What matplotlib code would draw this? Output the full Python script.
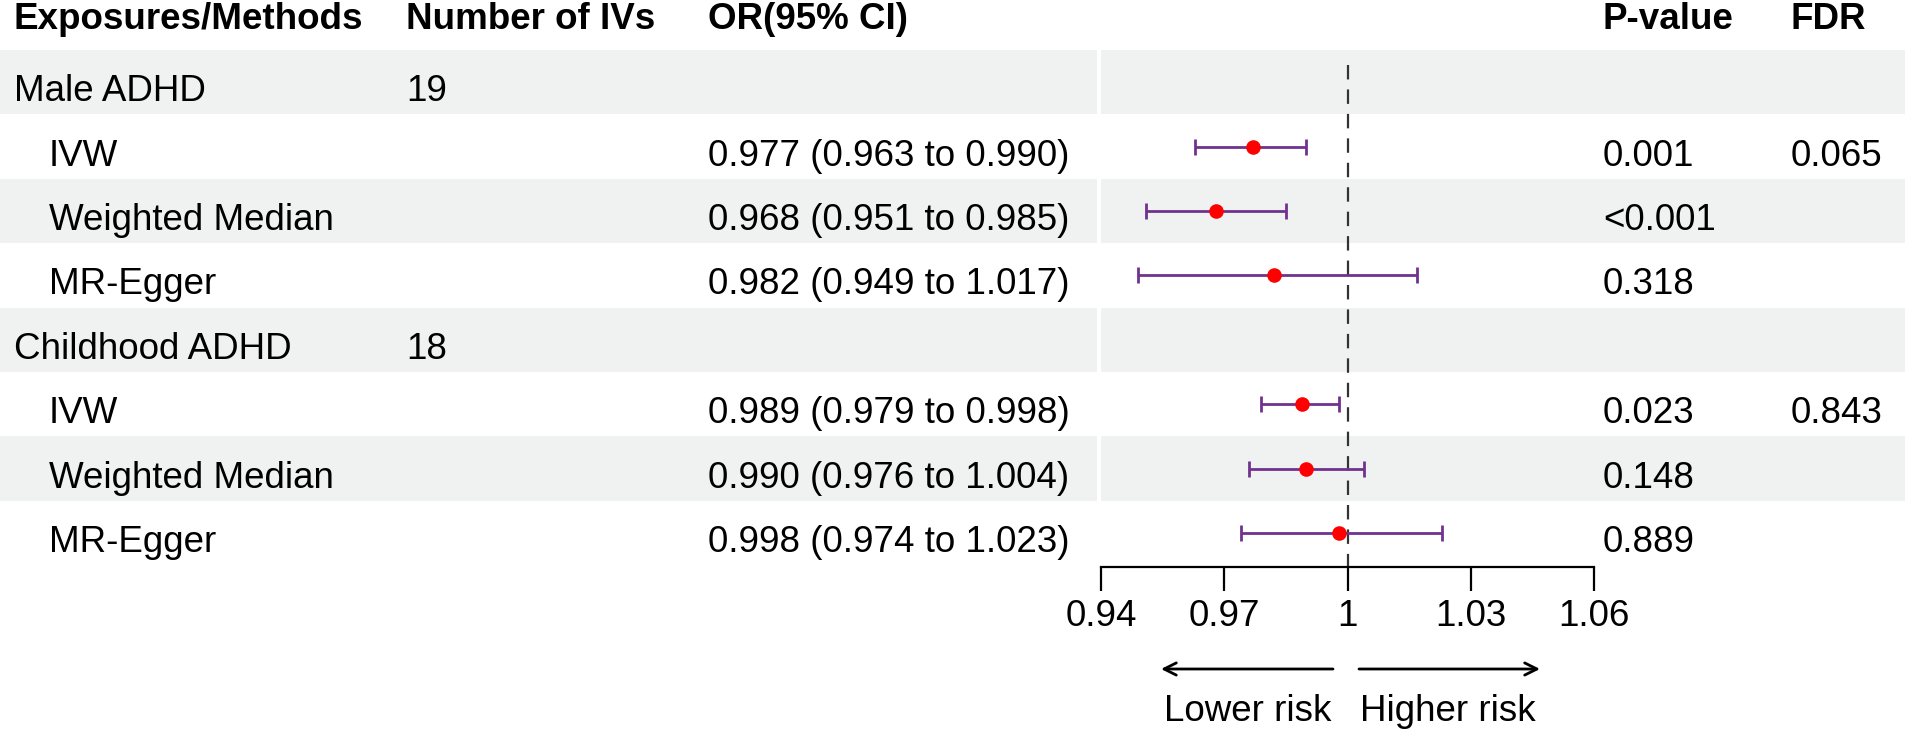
import matplotlib
matplotlib.use("Agg")
import matplotlib.pyplot as plt
from matplotlib.patches import Rectangle

plt.rcParams['font.family'] = ['Liberation Sans', 'DejaVu Sans']

# ---------------- data ----------------
headers = ["Exposures/Methods", "Number of IVs", "OR(95% CI)", "P-value", "FDR"]
row_labels = ["Male ADHD", "IVW", "Weighted Median", "MR-Egger",
              "Childhood ADHD", "IVW", "Weighted Median", "MR-Egger"]
is_group = [True, False, False, False, True, False, False, False]
n_ivs = ["19", "", "", "", "18", "", "", ""]
or_est = [None, 0.977, 0.968, 0.982, None, 0.989, 0.990, 0.998]
ci_low = [None, 0.963, 0.951, 0.949, None, 0.979, 0.976, 0.974]
ci_high = [None, 0.990, 0.985, 1.017, None, 0.998, 1.004, 1.023]
p_values = ["", "0.001", "<0.001", "0.318", "", "0.023", "0.148", "0.889"]
fdr_values = ["", "0.065", "", "", "", "0.843", "", ""]
x_ticks = [0.94, 0.97, 1.0, 1.03, 1.06]
x_tick_labels = ["0.94", "0.97", "1", "1.03", "1.06"]
ref_value = 1.0

# ---------------- layout (pixels) ----------------
W, H = 1906, 733
DPI = 100
top = 50.0
row_h = 64.4
axis_y = 567.0
plot_x0, plot_x1 = 1101.0, 1594.0
col_x = [14, 406, 708, 1603, 1791]
group_x = 14
indent_x = 49
fs = 26.5
gray = "#EFF2F1"
purple = "#71328F"

fig = plt.figure(figsize=(W / DPI, H / DPI), dpi=DPI)
bg = fig.add_axes([0, 0, 1, 1])
bg.set_xlim(0, W)
bg.set_ylim(H, 0)
bg.axis("off")

n = len(row_labels)
# alternating row backgrounds with a white gap before the plot column
for i in range(n):
    if i % 2 == 0:
        y0 = top + i * row_h
        bg.add_patch(Rectangle((0, y0), plot_x0 - 4, row_h, color=gray, lw=0, zorder=0))
        bg.add_patch(Rectangle((plot_x0, y0), W - plot_x0, row_h, color=gray, lw=0, zorder=0))

# header
for x, h in zip(col_x, headers):
    bg.text(x, 29, h, fontsize=fs, fontweight="bold", ha="left", va="baseline")

# rows
for i in range(n):
    yb = top + (i + 0.5) * row_h + 19
    xl = group_x if is_group[i] else indent_x
    bg.text(xl, yb, row_labels[i], fontsize=fs, ha="left", va="baseline")
    if n_ivs[i]:
        bg.text(col_x[1], yb, n_ivs[i], fontsize=fs, ha="left", va="baseline")
    if or_est[i] is not None:
        s = f"{or_est[i]:.3f} ({ci_low[i]:.3f} to {ci_high[i]:.3f})"
        bg.text(col_x[2], yb, s, fontsize=fs, ha="left", va="baseline")
    if p_values[i]:
        bg.text(col_x[3], yb, p_values[i], fontsize=fs, ha="left", va="baseline")
    if fdr_values[i]:
        bg.text(col_x[4], yb, fdr_values[i], fontsize=fs, ha="left", va="baseline")

# forest axes
ax = fig.add_axes([plot_x0 / W, (H - axis_y) / H,
                   (plot_x1 - plot_x0) / W, (axis_y - top) / H])
ax.patch.set_alpha(0)
ax.set_xlim(x_ticks[0], x_ticks[-1])
ax.set_ylim((axis_y - top) / row_h - 0.5, -0.5)
for side in ["top", "right", "left"]:
    ax.spines[side].set_visible(False)
ax.spines["bottom"].set_linewidth(1.6)
ax.set_yticks([])
ax.set_xticks(x_ticks)
ax.set_xticklabels(x_tick_labels)
ax.tick_params(axis="x", length=17, width=1.6, pad=6, labelsize=fs)

ax.vlines(ref_value, (65 - top) / row_h - 0.5, (axis_y - top) / row_h - 0.5,
          colors="#333333", linestyles=(0, (6.5, 4.5)), lw=1.6, zorder=1)

for i in range(n):
    if or_est[i] is None:
        continue
    ax.errorbar(or_est[i], i,
                xerr=[[or_est[i] - ci_low[i]], [ci_high[i] - or_est[i]]],
                fmt="none", ecolor=purple, elinewidth=2.0, capsize=6, capthick=2.0, zorder=2)
    ax.plot(or_est[i], i, "o", color="#FF0000", ms=10.5, mec="none", zorder=3)

# direction arrows
ay = 669
bg.annotate("", xy=(1161, ay), xytext=(1333, ay),
            arrowprops=dict(arrowstyle="->", lw=2.0, color="black", mutation_scale=22,
                            shrinkA=0, shrinkB=0))
bg.annotate("", xy=(1540, ay), xytext=(1359, ay),
            arrowprops=dict(arrowstyle="->", lw=2.0, color="black", mutation_scale=22,
                            shrinkA=0, shrinkB=0))
bg.text(1331, 721, "Lower risk", fontsize=fs, ha="right", va="baseline")
bg.text(1360, 721, "Higher risk", fontsize=fs, ha="left", va="baseline")

fig.savefig("out.png", dpi=DPI)
